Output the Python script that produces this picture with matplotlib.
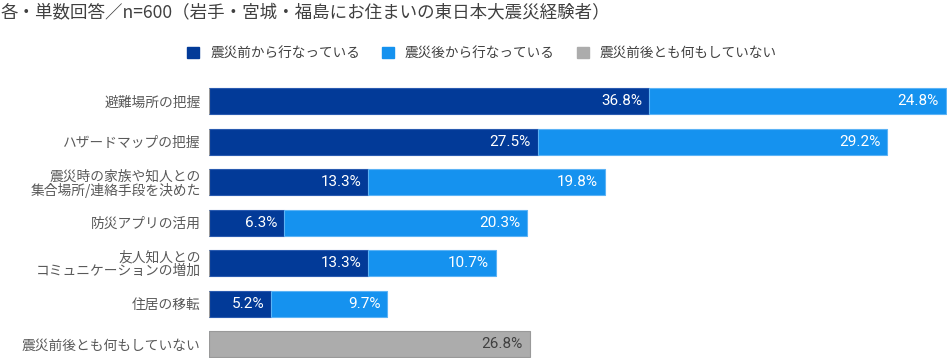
import matplotlib
matplotlib.use("Agg")
import matplotlib.pyplot as plt
from matplotlib.patches import Patch

plt.rcParams['font.family'] = ['Noto Sans CJK JP', 'DejaVu Sans']

categories = ["避難場所の把握", "ハザードマップの把握",
              "震災時の家族や知人との\n集合場所/連絡手段を決めた",
              "防災アプリの活用", "友人知人との\nコミュニケーションの増加",
              "住居の移転", "震災前後とも何もしていない"]
before = [36.8, 27.5, 13.3, 6.3, 13.3, 5.2, 0]
after = [24.8, 29.2, 19.8, 20.3, 10.7, 9.7, 0]
nothing = [0, 0, 0, 0, 0, 0, 26.8]
series_names = ["震災前から行なっている", "震災後から行なっている", "震災前後とも何もしていない"]
title = "各・単数回答／n=600（岩手・宮城・福島にお住まいの東日本大震災経験者）"

c_before = "#023a98"
c_after = "#1592ef"
c_none = "#acacac"

fig = plt.figure(figsize=(9.47, 3.58), dpi=100)
ax = fig.add_axes([209 / 947, 0, 738 / 947, 278 / 358])

y = list(range(len(categories)))
h = 0.64
b1 = ax.barh(y, before, height=h, color=c_before, edgecolor="#2a5bb0", linewidth=0.8)
b2 = ax.barh(y, after, left=before, height=h, color=c_after, edgecolor="#5cb3f5", linewidth=0.8)
b3 = ax.barh(y, nothing, height=h, color=c_none, edgecolor="#999999", linewidth=0.8)

def label(lefts, vals, color):
    for i, v in enumerate(vals):
        if v <= 0:
            continue
        ax.annotate(f"{v:.1f}%", (lefts[i] + v, y[i]), xytext=(-5, 0),
                    textcoords="offset points", ha="right", va="center",
                    color=color, fontsize=11, family="Roboto")

label([0] * len(y), before, "white")
label(before, after, "white")
label([0] * len(y), nothing, "#404040")

ax.set_xlim(0, 61.7)
ax.set_ylim(6.34, -0.526)
ax.set_yticks(y)
ax.set_yticklabels(categories, fontsize=9.9, color="#595959", linespacing=0.95)
ax.tick_params(axis="y", length=0, pad=6)
ax.set_xticks([])
for s in ax.spines.values():
    s.set_visible(False)

fig.text(0.0, 1 - 12 / 358, title, fontsize=12.6, color="#404040", va="center", ha="left")

handles = [Patch(facecolor=c, edgecolor=c) for c in (c_before, c_after, c_none)]
fig.legend(handles, series_names, loc="center", bbox_to_anchor=(482 / 947, 1 - 53 / 358),
           ncol=3, frameon=False, fontsize=9.8, handlelength=0.9, handleheight=0.9,
           handletextpad=0.8, columnspacing=1.6, labelcolor="#404040")

fig.savefig("out.png", dpi=100)
